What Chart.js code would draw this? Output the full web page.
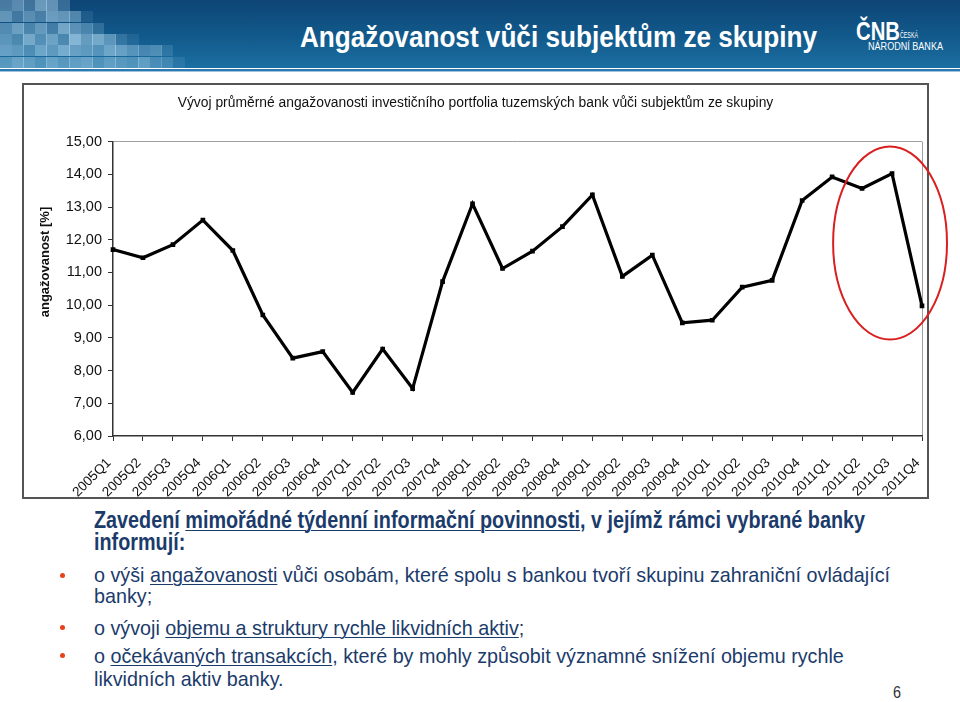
<!DOCTYPE html>
<html>
<head>
<meta charset="utf-8">
<script src="https://cdn.jsdelivr.net/npm/chart.js@4.4.1/dist/chart.umd.min.js"></script>
<style>
  html,body{margin:0;padding:0;background:#fff;}
  body{width:960px;height:702px;position:relative;overflow:hidden;font-family:"Liberation Sans",Arial,sans-serif;}
  #header{position:absolute;left:0;top:0;width:960px;height:68px;background:linear-gradient(180deg,#0d4576 0%,#125a8c 55%,#1b6fa2 100%);overflow:hidden;}
  #line1{position:absolute;left:0;top:69px;width:960px;height:2px;background:#2e78b0;}
  #line2{position:absolute;left:0;top:71px;width:960px;height:1px;background:#9cc3e0;}
  .sq{position:absolute;width:12px;height:11px;background:#b5dcf2;}
  .t{position:absolute;white-space:nowrap;transform-origin:0 0;}
  #frame{position:absolute;left:22px;top:83px;width:907px;height:416px;border:2px solid #555;box-sizing:border-box;}
  #cv{position:absolute;left:0;top:84px;}
  .bul{position:absolute;width:5px;height:5px;border-radius:50%;background:#e8401c;}
  u{text-decoration-thickness:1px;text-underline-offset:2px;}
</style>
</head>
<body>
<div id="header"></div>
<div id="line1"></div>
<div id="line2"></div>
<div id="frame"></div>
<canvas id="cv" width="960" height="415"></canvas>
<script>
// ---- data ----
const categories = ["2005Q1","2005Q2","2005Q3","2005Q4","2006Q1","2006Q2","2006Q3","2006Q4",
  "2007Q1","2007Q2","2007Q3","2007Q4","2008Q1","2008Q2","2008Q3","2008Q4",
  "2009Q1","2009Q2","2009Q3","2009Q4","2010Q1","2010Q2","2010Q3","2010Q4",
  "2011Q1","2011Q2","2011Q3","2011Q4"];
const exposure = [11.70,11.45,11.85,12.60,11.67,9.70,8.38,8.58,
  7.33,8.66,7.45,10.72,13.10,11.12,11.65,12.40,
  13.37,10.88,11.53,9.46,9.54,10.55,10.76,13.20,
  13.92,13.57,14.02,9.98];
const yMin = 6, yMax = 15, yStep = 1;
const slideTitle = "Angažovanost vůči subjektům ze skupiny";
const chartTitle = "Vývoj průměrné angažovanosti investičního portfolia tuzemských bank vůči subjektům ze skupiny";
const yAxisTitle = "angažovanost [%]";
const highlightFrom = 24, highlightTo = 27; // 2011 quarters circled

// ---- decoration: mosaic squares in header ----
const mosaic = [
  [.35,.45,.3,.55,.5,.25,0,0,0,0,0,0,0,0,0,0],
  [.5,.3,.45,.35,.55,.5,.4,.1,0,0,0,0,0,0,0,0],
  [.4,.55,.35,.5,.3,.6,.45,.35,.2,0,0,0,0,0,0,0],
  [.45,.35,.6,.4,.55,.35,.7,.5,.6,.45,.2,.1,0,0,0,0],
  [.5,.45,.35,.55,.45,.6,.5,.45,.4,.55,.5,.4,.3,.35,.15,0],
  [.4,.5,.45,.35,.5,.4,.45,.5,.35,.45,.4,.35,.45,.3,.25,.1]
];
const hd = document.getElementById('header');
mosaic.forEach((row,r)=>row.forEach((a,c)=>{
  if(!a) return;
  const d=document.createElement('div'); d.className='sq';
  d.style.left=(c*11.5)+'px'; d.style.top=(r*11.3)+'px'; d.style.opacity=a;
  hd.appendChild(d);
}));

// ---- text helper: place text with baseline & target width ----
function place(html, x, baseline, size, weight, color, target, scale){
  const d=document.createElement('div'); d.className='t';
  d.innerHTML=html;
  d.style.fontSize=size+'px'; d.style.fontWeight=weight; d.style.color=color;
  d.style.lineHeight=size+'px';
  d.style.left=x+'px';
  d.style.top=(baseline - (size*0.5 - 1.117*size/2 + 0.905*size))+'px';
  document.body.appendChild(d);
  let s = scale;
  if(target){ s = target / d.getBoundingClientRect().width; }
  if(s) d.style.transform='scaleX('+s+')';
  return s;
}
place(slideTitle, 300, 47, 30, 'bold', '#fff', 517);
place('ČNB', 856, 40, 26, 'bold', '#fff', 44);
place('ČESKÁ', 900, 39, 9, 'normal', '#fff', 18);
place('NÁRODNÍ BANKA', 868, 50.5, 10, 'normal', '#fff', 75);

const navy = '#1b3b6b';
const sb = place('Zavedení <u>mimořádné týdenní informační povinnosti</u>, v jejímž rámci vybrané banky', 94, 528, 23, 'bold', navy, 771);
place('informují:', 94, 550, 23, 'bold', navy, null, sb);
const sr = place('o výši <u>angažovanosti</u> vůči osobám, které spolu s bankou tvoří skupinu zahraniční ovládající', 94, 582, 21, 'normal', navy, 796);
place('banky;', 94, 603, 21, 'normal', navy, null, sr);
place('o vývoji <u>objemu a struktury rychle likvidních aktiv</u>;', 94, 635, 21, 'normal', navy, null, sr);
place('o <u>očekávaných transakcích</u>, které by mohly způsobit významné snížení objemu rychle', 94, 663, 21, 'normal', navy, null, sr);
place('likvidních aktiv banky.', 94, 686, 21, 'normal', navy, null, sr);
place('6', 893, 699, 16, 'normal', '#333', null, 0.9);
[575, 627, 655].forEach(y=>{
  const b=document.createElement('div'); b.className='bul';
  b.style.left='60px'; b.style.top=(y-2.5)+'px'; document.body.appendChild(b);
});

// ---- chart ----
const overlay = {
  id:'overlay',
  afterDraw(chart){
    const ctx=chart.ctx, xs=chart.scales.x, ys=chart.scales.y;
    // y axis title
    ctx.save();
    ctx.translate(45, 178);
    ctx.rotate(-Math.PI/2);
    ctx.font='bold 13px "Liberation Sans", Arial, sans-serif';
    ctx.fillStyle='#111'; ctx.textAlign='center'; ctx.textBaseline='middle';
    ctx.fillText(yAxisTitle, 0, 0);
    ctx.restore();
    // red ellipse around the last quarters
    const x1=xs.getPixelForValue(highlightFrom), x2=xs.getPixelForValue(highlightTo);
    const cx=(x1+x2)/2+13, rx=(x2-x1)/2+12;
    const cy=ys.getPixelForValue(11.9), ry=ys.getPixelForValue(9)-ys.getPixelForValue(11.95);
    ctx.save();
    ctx.strokeStyle='#d91f1f'; ctx.lineWidth=2;
    ctx.beginPath(); ctx.ellipse(cx, cy, rx, ry, 0, 0, Math.PI*2); ctx.stroke();
    ctx.restore();
  }
};

new Chart(document.getElementById('cv'), {
  type:'line',
  data:{ labels:categories, datasets:[{
    data:exposure, borderColor:'#000', borderWidth:3.2, tension:0,
    pointStyle:'rect', pointRadius:3.3, pointBackgroundColor:'#000', pointBorderColor:'#000', pointBorderWidth:0
  }]},
  options:{
    responsive:false, animation:false, devicePixelRatio:1,
    layout:{padding:{left:29,right:38,top:0,bottom:0}},
    plugins:{
      legend:{display:false}, tooltip:{enabled:false},
      title:{display:true, text:chartTitle, color:'#111',
        font:{family:'"Liberation Sans", Arial, sans-serif', size:13.85, weight:'normal', lineHeight:1.2},
        padding:{top:11,bottom:30}}
    },
    scales:{
      x:{
        offset:false,
        afterFit(s){ s.height=63; },
        grid:{display:true, drawOnChartArea:true, tickLength:5, tickColor:'#333',
          color:(c)=> (c.index===categories.length-1 ? '#a0a0a0' : 'rgba(0,0,0,0)')},
        border:{display:true, color:'#333', width:1.5},
        ticks:{autoSkip:false, minRotation:45, maxRotation:45, color:'#111', padding:14, labelOffset:-4,
          font:{family:'"Liberation Sans", Arial, sans-serif', size:13.5}}
      },
      y:{
        min:yMin, max:yMax,
        afterFit(s){ s.width=84; },
        grid:{display:true, drawOnChartArea:true, tickLength:5, tickColor:'#333',
          color:(c)=> (c.tick && c.tick.value===yMax ? '#a0a0a0' : 'rgba(0,0,0,0)')},
        border:{display:true, color:'#333', width:1.5},
        ticks:{stepSize:yStep, color:'#111', padding:6,
          font:{family:'"Liberation Sans", Arial, sans-serif', size:14.5},
          callback:(v)=> v.toFixed(2).replace('.', ',')}
      }
    }
  },
  plugins:[overlay]
});
</script>
</body>
</html>
